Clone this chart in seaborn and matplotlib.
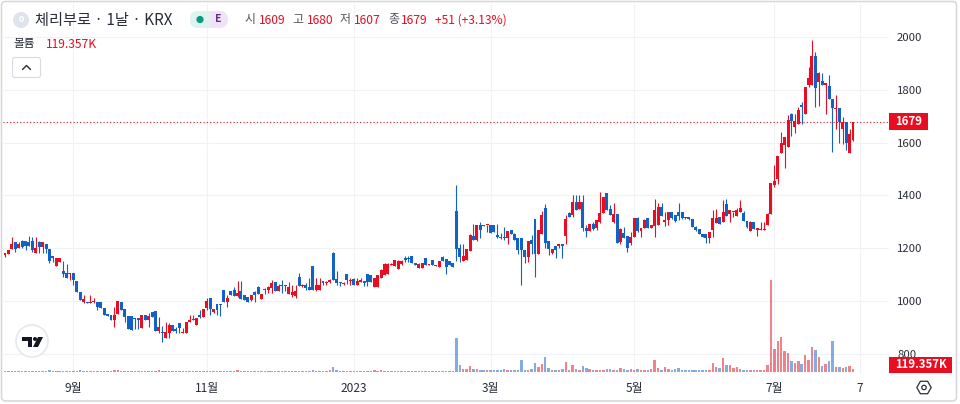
import matplotlib
matplotlib.use("Agg")
import numpy as np
import pandas as pd
import seaborn as sns
import matplotlib.pyplot as plt
from matplotlib.patches import Circle, FancyBboxPatch, Polygon, Rectangle, RegularPolygon

opens = [1175,1179,1197,1223,1200,1229,1229,1225,1228,1184,1225,1206,1215,1197,1170,1134,1150,1114,1105,1103,
 1105,1076,1036,998,998,994,998,998,996,973,951,948,929,951,996,969,944,944,935,935,
 900,948,929,960,963,887,884,862,881,910,895,916,878,881,920,932,910,948,941,973,
 1011,960,988,988,1041,995,1040,1042,1021,1040,1023,1017,1004,1036,1054,1008,1045,1042,1049,1071,
 1040,1061,1059,1027,1023,1021,1090,1058,1060,1054,1132,1041,1041,1075,1069,1073,1182,1083,1073,1065,
 1102,1075,1083,1063,1073,1075,1102,1098,1054,1054,1087,1100,1102,1136,1133,1121,1142,1164,1164,1170,
 1146,1127,1127,1165,1136,1157,1133,1130,1167,1159,1151,1146,1343,1201,1151,1155,1189,1247,1230,1289,
 1290,1287,1289,1289,1249,1243,1241,1239,1268,1255,1239,1239,1192,1167,1233,1312,1180,1255,1353,1226,
 1182,1208,1208,1218,1247,1335,1328,1375,1350,1377,1278,1264,1291,1276,1301,1332,1410,1349,1301,1330,
 1225,1257,1247,1219,1244,1313,1266,1276,1313,1278,1285,1288,1357,1301,1307,1336,1328,1339,1339,1317,
 1317,1311,1282,1273,1254,1253,1238,1269,1297,1317,1301,1368,1330,1336,1323,1339,1335,1305,1267,1298,
 1269,1269,1269,1288,1330,1439,1462,1562,1591,1584,1708,1660,1670,1742,1710,1817,1817,1927,1830,1834,
 1820,1814,1767,1729,1733,1653,1679,1562,1609]
highs = [1181,1194,1242,1223,1223,1232,1229,1247,1242,1242,1229,1223,1215,1197,1170,1165,1165,1152,1139,1105,
 1105,1076,1036,1023,998,1023,1011,998,996,973,951,948,979,1000,996,969,944,944,935,935,
 948,948,954,960,963,941,906,922,916,910,903,916,897,920,948,948,935,967,970,1011,
 1011,970,988,988,1041,1023,1040,1055,1075,1075,1023,1017,1023,1039,1058,1027,1049,1058,1080,1071,
 1065,1080,1061,1071,1061,1061,1105,1065,1067,1086,1132,1086,1086,1075,1075,1083,1185,1113,1073,1073,
 1102,1086,1086,1086,1086,1075,1102,1098,1087,1100,1123,1145,1145,1145,1155,1155,1155,1170,1170,1170,
 1146,1145,1146,1165,1142,1157,1138,1152,1170,1159,1151,1146,1440,1215,1215,1199,1255,1293,1290,1300,
 1290,1289,1289,1290,1293,1259,1280,1265,1270,1257,1239,1239,1192,1228,1252,1312,1268,1342,1369,1226,
 1199,1208,1218,1218,1325,1337,1400,1400,1400,1400,1287,1293,1300,1307,1414,1395,1410,1365,1370,1330,
 1276,1282,1247,1260,1313,1317,1276,1310,1313,1288,1388,1370,1372,1339,1336,1336,1328,1370,1339,1317,
 1320,1311,1285,1273,1254,1253,1263,1345,1349,1317,1383,1385,1345,1339,1354,1383,1341,1305,1305,1298,
 1276,1301,1301,1332,1448,1517,1549,1641,1620,1704,1712,1710,1735,1755,1809,1887,1988,1943,1868,1862,
 1824,1855,1767,1780,1733,1698,1679,1653,1680]
lows = [1168,1179,1197,1187,1200,1200,1194,1210,1187,1184,1184,1184,1181,1143,1150,1134,1150,1093,1086,1080,
 1061,1036,1004,994,994,994,994,965,973,948,945,929,903,951,967,922,894,891,894,894,
 900,929,903,941,887,878,847,859,862,887,881,878,878,881,920,929,910,935,941,967,
 948,955,948,945,995,979,1023,1021,1017,1008,1004,998,1000,995,1027,1008,1027,1030,1030,1040,
 1040,1030,1040,1027,1017,1011,1059,1054,1041,1041,1041,1038,1041,1060,1060,1067,1079,1060,1058,1060,
 1065,1060,1060,1060,1073,1058,1058,1073,1054,1054,1087,1100,1102,1136,1133,1121,1136,1148,1148,1146,
 1136,1127,1127,1136,1136,1136,1133,1130,1151,1104,1136,1130,1152,1148,1151,1155,1189,1230,1228,1240,
 1284,1262,1259,1262,1239,1236,1231,1218,1255,1230,1180,1060,1145,1148,1180,1092,1180,1255,1203,1174,
 1180,1165,1200,1165,1218,1318,1318,1347,1350,1265,1243,1264,1270,1270,1295,1332,1345,1326,1295,1221,
 1215,1238,1187,1212,1244,1260,1244,1276,1278,1278,1244,1288,1323,1286,1288,1310,1300,1307,1310,1310,
 1308,1282,1266,1253,1242,1219,1221,1242,1297,1291,1301,1322,1301,1320,1323,1339,1305,1276,1267,1273,
 1247,1269,1269,1288,1330,1432,1444,1562,1505,1584,1625,1635,1670,1670,1710,1809,1817,1735,1737,1817,
 1710,1767,1565,1653,1600,1595,1572,1562,1607]
closes = [1181,1194,1216,1197,1215,1206,1209,1210,1194,1200,1206,1223,1197,1152,1165,1165,1165,1103,1086,1105,
 1080,1036,1004,1008,994,998,1000,979,973,948,945,929,948,1000,967,939,894,891,932,929,
 948,929,945,941,887,903,878,884,910,887,887,897,884,920,929,929,935,941,970,1000,
 970,970,967,985,995,1013,1023,1021,1030,1008,1004,998,1023,1023,1027,1027,1041,1055,1070,1040,
 1059,1059,1061,1054,1036,1040,1059,1063,1048,1041,1041,1060,1060,1070,1073,1079,1079,1070,1067,1070,
 1079,1079,1063,1075,1079,1070,1073,1073,1087,1100,1117,1142,1142,1142,1155,1151,1151,1155,1161,1146,
 1136,1142,1146,1136,1142,1136,1138,1152,1151,1130,1136,1130,1199,1167,1170,1199,1252,1230,1290,1271,
 1285,1289,1259,1262,1242,1239,1239,1265,1255,1230,1192,1192,1167,1228,1218,1180,1268,1325,1220,1196,
 1199,1192,1218,1208,1312,1318,1377,1347,1377,1277,1264,1293,1273,1307,1332,1395,1345,1326,1330,1221,
 1273,1238,1200,1242,1313,1266,1276,1307,1278,1288,1345,1357,1323,1307,1336,1313,1305,1322,1313,1313,
 1312,1282,1269,1253,1244,1238,1263,1313,1316,1291,1337,1322,1345,1339,1345,1351,1305,1282,1301,1273,
 1276,1273,1273,1330,1448,1456,1549,1597,1620,1685,1683,1683,1723,1735,1809,1843,1927,1807,1862,1817,
 1824,1767,1732,1733,1679,1679,1600,1631,1679]
volumes = [40,45,50,50,45,60,55,50,55,45,
 50,50,45,100,50,45,50,50,50,45,
 60,45,70,65,50,55,55,60,50,55,
 55,60,110,90,50,45,40,45,45,55,
 50,45,45,50,55,70,50,50,50,40,
 45,50,55,60,45,50,55,50,55,45,
 50,40,50,55,50,50,65,60,75,60,
 55,60,50,50,55,45,40,50,40,50,
 40,45,45,40,45,45,55,45,50,65,
 70,50,50,55,50,70,205,85,60,55,
 50,50,50,45,45,45,50,45,70,60,
 70,55,55,50,55,50,50,55,55,45,
 40,40,40,45,40,40,40,40,40,40,
 40,40,1480,295,115,150,250,150,150,90,
 75,75,90,75,90,75,130,90,75,80,
 75,515,75,75,130,410,205,340,645,160,
 75,75,75,147,425,75,295,120,100,250,
 160,150,90,90,70,90,150,120,90,75,
 165,120,100,120,100,150,85,90,110,120,
 530,190,75,235,120,90,120,190,75,75,
 75,75,75,75,75,75,100,380,235,190,
 600,295,295,160,205,130,100,75,75,75,
 75,75,75,295,4040,1000,1350,1525,925,850,
 470,380,470,340,735,515,1115,955,675,265,
 340,470,1365,235,205,190,205,250,119.357]
price_ticks = [800, 1000, 1200, 1400, 1600, 1800, 2000]
time_ticks = [20, 59, 102, 142, 184, 225, 250]
time_labels = ["9월", "11월", "2023", "3월", "5월", "7월", "7"]
last_close = 1679

RED = "#e80d20"
BLUE = "#1261c4"
GRID = "#f0f2f6"
TXT = "#2a2e39"

sns.set_theme(style="white")
plt.rcParams["font.family"] = ["Noto Sans CJK KR", "DejaVu Sans"]

df = pd.DataFrame({"idx": np.arange(len(closes)), "open": opens, "high": highs,
                   "low": lows, "close": closes, "volume": volumes})
df["up"] = df["close"] >= df["open"]
df["base"] = df[["open", "close"]].min(axis=1)
df["body"] = (df["close"] - df["open"]).abs().clip(lower=4)

fig = plt.figure(figsize=(9.6, 4.04), dpi=100, facecolor="white")
L, R, T, B = 3, 889, 3, 374
ax = fig.add_axes([L / 960, (404 - B) / 404, (R - L) / 960, (B - T) / 404])
ax.set_facecolor("white")
ax2 = ax.twinx()

for flag, col in ((True, RED), (False, BLUE)):
    sub = df[df["up"] == flag]
    ax.vlines(sub["idx"], sub["low"], sub["high"], color=col, lw=0.8, zorder=3)
    sns.barplot(data=sub, x="idx", y="body", bottom=sub["base"].values, native_scale=True,
                color=col, saturation=1, width=0.86, linewidth=0, errorbar=None, ax=ax, zorder=4)
    sns.barplot(data=sub, x="idx", y="volume", native_scale=True, color=col, saturation=1,
                width=0.72, linewidth=0, alpha=0.52, errorbar=None, ax=ax2)

px_x = 848 / 248
px_y = 1200 / 317
ax.set_xlim(-(5 - L) / px_x, 248 + (R - 853) / px_x)
ax.set_ylim(800 - (B - 354) * px_y, 2000 + (37 - T) * px_y)
ax2.set_ylim(-2 * 44, (B - T - 2) * 44)
ax2.set_yticks([])
ax2.set_ylabel("")
ax.set_xlabel("")
ax.set_ylabel("")
ax2.set_xlabel("")

ax.set_yticks(price_ticks)
ax.set_yticklabels([str(p) for p in price_ticks], fontsize=8.2, color=TXT)
ax.yaxis.tick_right()
ax.yaxis.set_label_position("right")
ax.set_xticks(time_ticks)
ax.set_xticklabels(time_labels, fontsize=8.6, color=TXT)
ax.tick_params(axis="y", length=0, pad=5.8)
ax.tick_params(axis="x", length=0, pad=5.5)
ax.grid(True, color=GRID, lw=0.75, zorder=0)
ax.set_axisbelow(True)
for a in (ax, ax2):
    for s in a.spines.values():
        s.set_visible(False)
ax.axhline(last_close, color=RED, lw=0.8, ls=(0, (1, 2)), zorder=2)

# chrome overlay in pixel coordinates
ov = fig.add_axes([0, 0, 1, 1], zorder=10)
ov.set_xlim(0, 960)
ov.set_ylim(404, 0)
ov.axis("off")
ov.patch.set_alpha(0)
ov.add_patch(FancyBboxPatch((1.5, 1.5), 955, 399.5, boxstyle="round,pad=0,rounding_size=4",
                            fc="none", ec="#d6d6d6", lw=1.1))

# header
ov.add_patch(Circle((21, 20), 8, fc="#dfe3ec", ec="none"))
ov.text(21, 20, "0", color="white", fontsize=6.5, ha="center", va="center", fontweight="bold")
ov.text(35, 20, "체리부로 · 1날 · KRX", color=TXT, fontsize=11, ha="left", va="center")
ov.add_patch(FancyBboxPatch((190, 11), 38, 17, boxstyle="round,pad=0,rounding_size=8.5",
                            fc="#efe3f5", ec="none"))
ov.add_patch(FancyBboxPatch((190, 11), 20, 17, boxstyle="round,pad=0,rounding_size=8.5",
                            fc="#dff3ee", ec="none"))
ov.add_patch(Rectangle((202, 11), 8, 17, fc="#dff3ee", ec="none"))
ov.add_patch(Circle((200, 19.5), 3.6, fc="#089981", ec="none"))
ov.text(218, 19.5, "E", color="#6a2c91", fontsize=7.6, ha="center", va="center", fontweight="bold")
for x, s in ((245, "시"), (292, "고"), (340, "저"), (388, "종")):
    ov.text(x, 20, s, color="#50535e", fontsize=8.6, ha="left", va="center")
for x, s in ((259, "1609"), (307, "1680"), (354, "1607"), (401, "1679"), (435, "+51 (+3.13%)")):
    ov.text(x, 20.5, s, color=RED, fontsize=8.7, ha="left", va="center")
ov.text(13, 44, "볼륨", color=TXT, fontsize=8.4, ha="left", va="center")
ov.text(46, 44, "119.357K", color=RED, fontsize=8.7, ha="left", va="center")
ov.add_patch(FancyBboxPatch((12.5, 57.5), 28, 20, boxstyle="round,pad=0,rounding_size=2.5",
                            fc="white", ec="#d8dbe2", lw=0.8))
ov.plot([22.5, 26.5, 30.5], [69.5, 65.5, 69.5], color=TXT, lw=1.0, solid_capstyle="round")

# logo
ov.add_patch(Circle((32, 341), 16, fc="white", ec="#e6e8ee", lw=1.2))
ov.add_patch(Polygon([(22, 337), (32, 337), (32, 347), (28, 347), (28, 341), (22, 341)], fc="#131722", ec="none"))
ov.add_patch(Circle((35, 339), 2, fc="#131722", ec="none"))
ov.add_patch(Polygon([(38, 337), (43, 337), (38, 347), (33, 347)], fc="#131722", ec="none"))

# price tags
ov.add_patch(Rectangle((889, 113), 39, 17, fc=RED, ec="none"))
ov.text(908.5, 121.5, "1679", color="white", fontsize=8.2, fontweight="bold", ha="center", va="center")
ov.add_patch(Rectangle((889, 357), 63, 16, fc=RED, ec="none"))
ov.text(920.5, 365, "119.357K", color="white", fontsize=8.2, fontweight="bold", ha="center", va="center")

# settings icon
ov.add_patch(RegularPolygon((924, 387.5), 6, radius=7.2, orientation=np.pi / 2, fc="none", ec=TXT, lw=0.9))
ov.add_patch(Circle((924, 387.5), 2.2, fc="none", ec=TXT, lw=0.9))

fig.savefig("out.png", dpi=100, facecolor="white")
